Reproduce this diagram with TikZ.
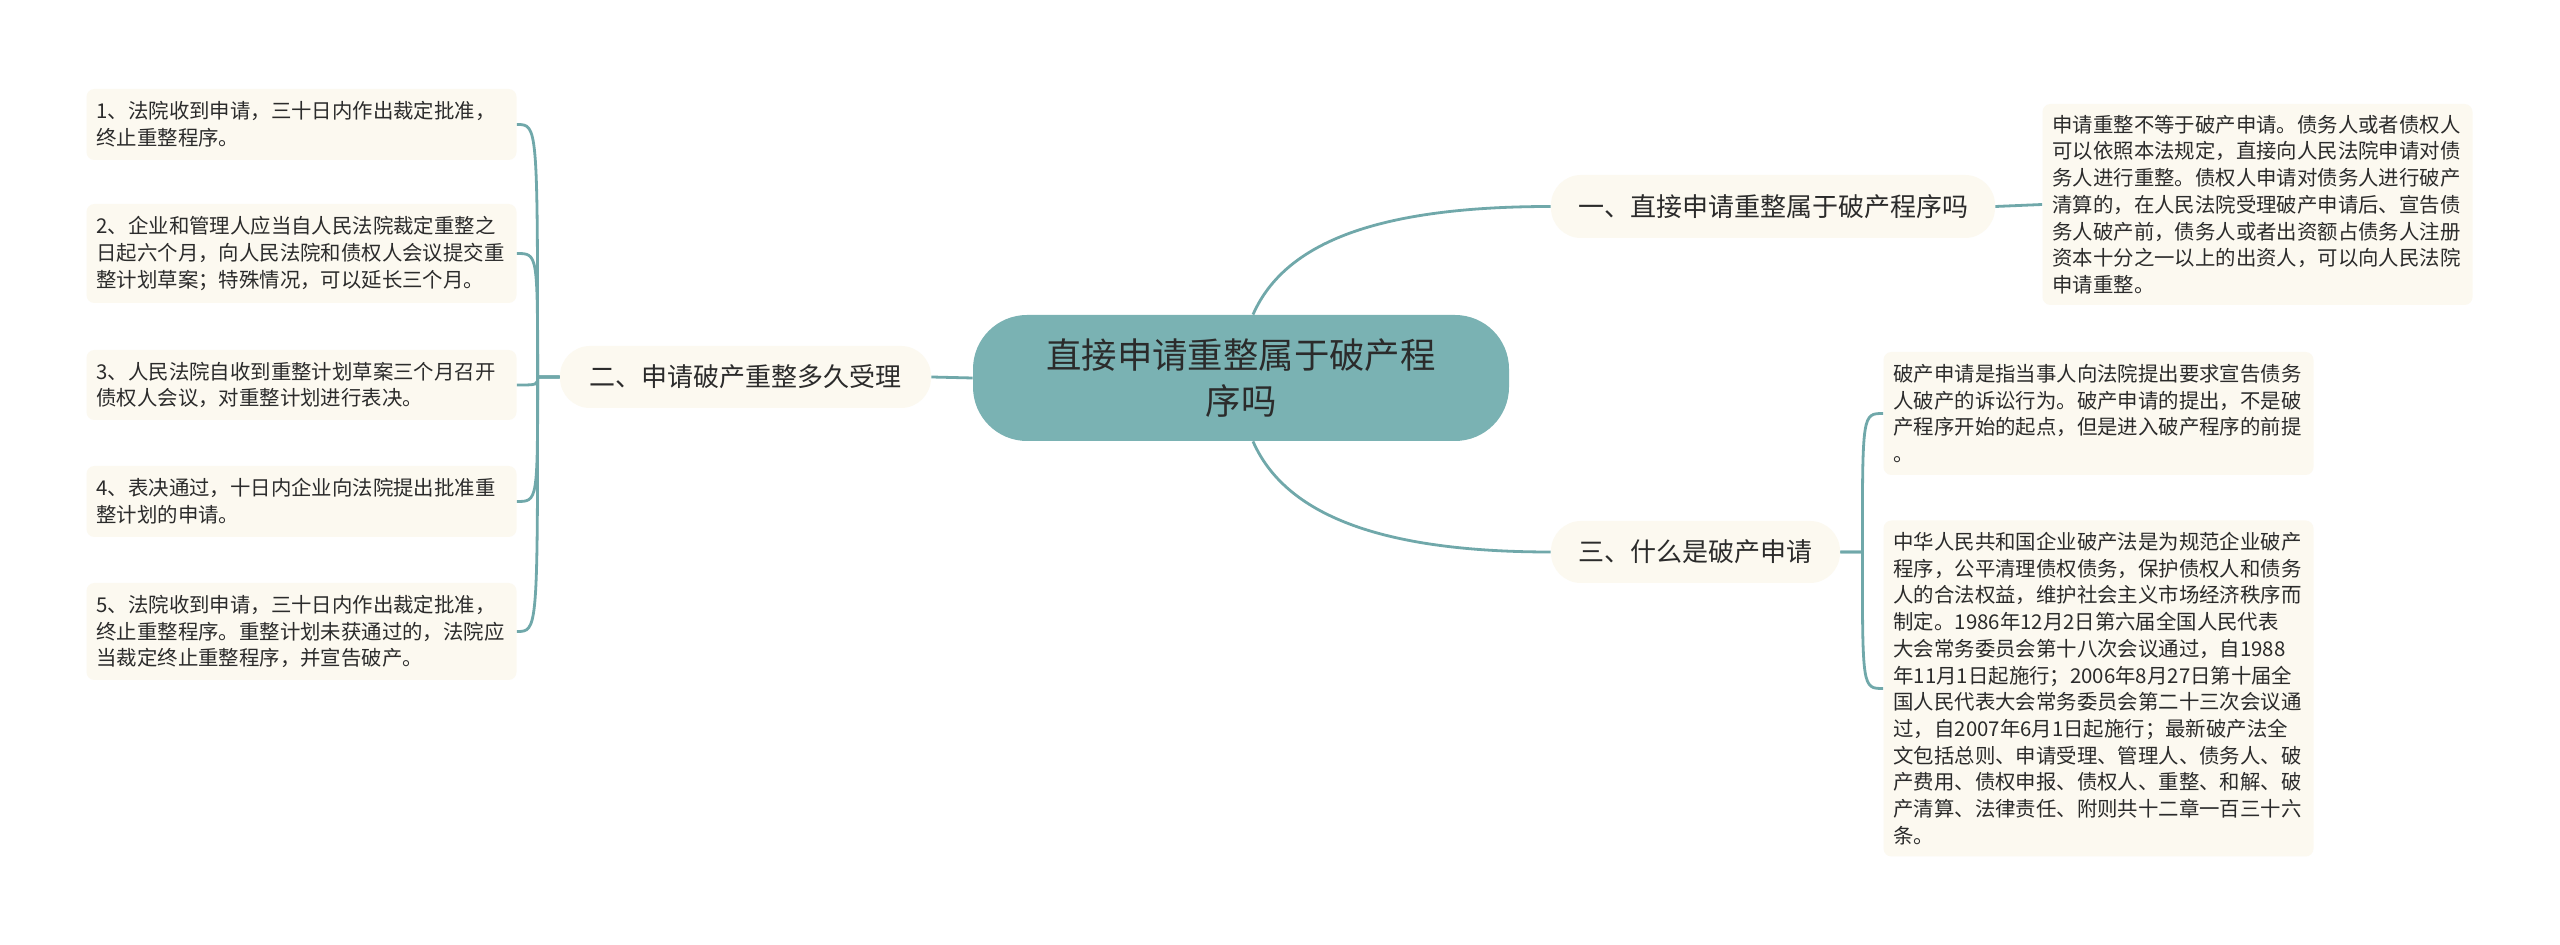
\documentclass[tikz,border=0pt]{standalone}
\usepackage{fontspec}
\setmainfont{Noto Sans CJK SC}
\usetikzlibrary{calc}
\definecolor{rootfill}{HTML}{7AB2B3}
\definecolor{linecol}{HTML}{70A8AA}
\definecolor{cream}{HTML}{FCF9F0}
\definecolor{txt}{HTML}{2B2B2B}
\begin{document}
\begin{tikzpicture}[x=0.5pt,y=-0.5pt,
  leaf/.style={fill=cream, rounded corners=4pt, text width=205pt, align=left,
    inner xsep=5pt, inner ysep=0pt, text=txt,
    font=\fontsize{10.2}{13.35}\selectfont},
  branch/.style={fill=cream, rounded corners=15pt, align=center, text=txt,
    inner sep=0pt, font=\fontsize{13}{16}\selectfont},
  root/.style={fill=rootfill, rounded corners=27pt, align=center, text=txt,
    inner sep=0pt, font=\fontsize{17.7}{23}\selectfont},
  conn/.style={draw=linecol, line width=1.4pt}]
\useasboundingbox (0,0) rectangle (2560,945);
\fill[white] (0,0) rectangle (2560,945);

% root and branches
\node[root, minimum width=268pt, minimum height=63pt] (c) at (1241,378) {直接申请重整属于破产程\\序吗};
\node[branch, minimum width=185.5pt, minimum height=31pt] (b2) at (745.5,377) {二、申请破产重整多久受理};
\node[branch, minimum width=222pt, minimum height=31.5pt] (b1) at (1773,206.5) {一、直接申请重整属于破产程序吗};
\node[branch, minimum width=144.5pt, minimum height=31pt] (b3) at (1695.5,552) {三、什么是破产申请};

% left leaves
\node[leaf, minimum height=35.5pt] (L1) at (301.5,124.5) {1、法院收到申请，三十日内作出裁定批准，\\终止重整程序。};
\node[leaf, minimum height=49.5pt] (L2) at (301.5,253.5) {2、企业和管理人应当自人民法院裁定重整之\\日起六个月，向人民法院和债权人会议提交重\\整计划草案；特殊情况，可以延长三个月。};
\node[leaf, minimum height=35pt] (L3) at (301.5,385) {3、人民法院自收到重整计划草案三个月召开\\债权人会议，对重整计划进行表决。};
\node[leaf, minimum height=35.5pt] (L4) at (301.5,501.5) {4、表决通过，十日内企业向法院提出批准重\\整计划的申请。};
\node[leaf, minimum height=48.5pt] (L5) at (301.5,631.5) {5、法院收到申请，三十日内作出裁定批准，\\终止重整程序。重整计划未获通过的，法院应\\当裁定终止重整程序，并宣告破产。};

% right leaves
\node[leaf, minimum height=100.5pt] (R1) at (2257.5,204.5) {申请重整不等于破产申请。债务人或者债权人\\可以依照本法规定，直接向人民法院申请对债\\务人进行重整。债权人申请对债务人进行破产\\清算的，在人民法院受理破产申请后、宣告债\\务人破产前，债务人或者出资额占债务人注册\\资本十分之一以上的出资人，可以向人民法院\\申请重整。};
\node[leaf, minimum height=61.5pt] (R2) at (2098.5,413.5) {破产申请是指当事人向法院提出要求宣告债务\\人破产的诉讼行为。破产申请的提出，不是破\\产程序开始的起点，但是进入破产程序的前提\\。};
\node[leaf, minimum height=168pt] (R3) at (2098.5,688.5) {中华人民共和国企业破产法是为规范企业破产\\程序，公平清理债权债务，保护债权人和债务\\人的合法权益，维护社会主义市场经济秩序而\\制定。1986年12月2日第六届全国人民代表\\大会常务委员会第十八次会议通过，自1988\\年11月1日起施行；2006年8月27日第十届全\\国人民代表大会常务委员会第二十三次会议通\\过，自2007年6月1日起施行；最新破产法全\\文包括总则、申请受理、管理人、债务人、破\\产费用、债权申报、债权人、重整、和解、破\\产清算、法律责任、附则共十二章一百三十六\\条。};

% connectors
\draw[conn] (c.west) -- (b2.east);
\draw[conn] ([xshift=6pt]c.north) .. controls +(32,-73) and +(-171,0) .. (b1.west);
\draw[conn] ([xshift=6pt]c.south) .. controls +(32,73) and +(-171,0) .. (b3.west);
\draw[conn] (b1.east) -- (R1.west);

\coordinate (ls) at ($(b2.west)+(-22,0)$);
\foreach \n in {L1,L2,L3,L4,L5}{
  \draw[conn] (b2.west) -- (ls) .. controls (ls |- \n.east) .. (\n.east);
}
\coordinate (rs) at ($(b3.east)+(22,0)$);
\foreach \n in {R2,R3}{
  \draw[conn] (b3.east) -- (rs) .. controls (rs |- \n.west) .. (\n.west);
}
\end{tikzpicture}
\end{document}
